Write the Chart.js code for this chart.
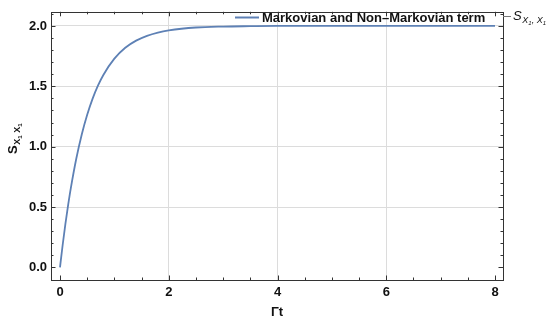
<!DOCTYPE html>
<html>
<head>
<meta charset="utf-8">
<script src="https://cdn.jsdelivr.net/npm/chart.js@4"></script>
<style>
html,body{margin:0;padding:0;background:#fff;}
#wrap{width:548px;height:323px;position:relative;}
</style>
</head>
<body>
<div id="wrap"><canvas id="c" width="548" height="323"></canvas></div>
<script>
// ---- data ----
const timeValues = [0, 0.05, 0.1, 0.15, 0.2, 0.3, 0.4, 0.5, 0.6, 0.7, 0.8, 1.0, 1.2, 1.4, 1.6, 1.8, 2.0, 2.5, 3.0, 3.5, 4.0, 5.0, 6.0, 7.0, 8.0];
const sValues    = [0, 0.19, 0.363, 0.518, 0.659, 0.902, 1.101, 1.264, 1.398, 1.507, 1.596, 1.729, 1.819, 1.878, 1.918, 1.945, 1.963, 1.987, 1.995, 1.998, 2.0, 2.0, 2.0, 2.0, 2.0];
const seriesLabel = "Markovian and Non\u2013Markovian term";
const xTickValues = [0, 2, 4, 6, 8];
const yTickValues = [0, 0.5, 1.0, 1.5, 2.0];
const xMinorStep = 0.5;
const yMinorStep = 0.1;
const xTitle = "\u0393t";

const FONT = '"Liberation Sans", Arial, sans-serif';
const BLUE = '#5e81b5';

const points = timeValues.map((t, i) => ({x: t, y: sValues[i]}));

const framePlugin = {
  id: 'frame',
  afterDatasetsDraw(chart) {
    const ctx = chart.ctx;
    const a = chart.chartArea;
    const xs = chart.scales.x, ys = chart.scales.y;
    ctx.save();
    // frame
    ctx.strokeStyle = '#333';
    ctx.lineWidth = 1;
    ctx.strokeRect(Math.round(a.left) + 0.5, Math.round(a.top) + 0.5, Math.round(a.right - a.left), Math.round(a.bottom - a.top));
    // ticks
    const majorLen = 4.5, minorLen = 2.5;
    ctx.strokeStyle = '#333';
    ctx.beginPath();
    const xMin = xs.min, xMax = xs.max;
    for (let k = Math.ceil(xMin / xMinorStep); k * xMinorStep <= xMax; k++) {
      const v = k * xMinorStep;
      const major = xTickValues.some(t => Math.abs(t - v) < 1e-9);
      const len = major ? majorLen : minorLen;
      const px = Math.round(xs.getPixelForValue(v)) + 0.5;
      ctx.moveTo(px, a.bottom); ctx.lineTo(px, a.bottom - len);
      ctx.moveTo(px, a.top); ctx.lineTo(px, a.top + len);
    }
    const yMin = ys.min, yMax = ys.max;
    for (let k = Math.ceil(yMin / yMinorStep - 1e-9); k * yMinorStep <= yMax + 1e-9; k++) {
      const v = k * yMinorStep;
      const major = yTickValues.some(t => Math.abs(t - v) < 1e-9);
      const len = major ? majorLen : minorLen;
      const py = Math.round(ys.getPixelForValue(v)) + 0.5;
      ctx.moveTo(a.left, py); ctx.lineTo(a.left + len, py);
      ctx.moveTo(a.right, py); ctx.lineTo(a.right - len, py);
    }
    ctx.stroke();

    // x title
    ctx.fillStyle = '#111';
    ctx.font = 'bold 13px ' + FONT;
    ctx.textAlign = 'center';
    ctx.textBaseline = 'alphabetic';
    ctx.fillText(xTitle, (a.left + a.right) / 2, 316);

    // y title (rotated) S_{X1 X1}
    ctx.save();
    ctx.translate(17, 142);
    ctx.rotate(-Math.PI / 2);
    drawS(ctx, -12, 0, true, ' ');
    ctx.restore();

    // legend
    const ly = ys.getPixelForValue(2.0);
    ctx.strokeStyle = BLUE;
    ctx.lineWidth = 2;
    ctx.beginPath();
    ctx.moveTo(235, 17.5); ctx.lineTo(259, 17.5);
    ctx.stroke();
    ctx.fillStyle = '#111';
    ctx.font = 'bold 13px ' + FONT;
    ctx.textAlign = 'left';
    ctx.fillText(chart.data.datasets[0].label, 262, 22);

    // callout on the right
    ctx.strokeStyle = '#777';
    ctx.lineWidth = 1;
    ctx.beginPath();
    ctx.moveTo(a.right, 16.5); ctx.lineTo(a.right + 8, 16.5);
    ctx.stroke();
    drawS(ctx, a.right + 10, 20, false, ', ');
    ctx.restore();
  }
};

function drawS(ctx, x, y, bold, sep) {
  ctx.fillStyle = '#111';
  ctx.textAlign = 'left';
  ctx.textBaseline = 'alphabetic';
  ctx.font = (bold ? 'bold ' : 'italic ') + '13px ' + FONT;
  ctx.fillText('S', x, y);
  let cx = x + ctx.measureText('S').width + 0.5;
  const parts = ['X', '1', sep, 'X', '1'];
  parts.forEach((p, i) => {
    if (p === '1') {
      ctx.font = (bold ? 'bold ' : 'italic ') + '6px ' + FONT;
      ctx.fillText(p, cx, y + 4.5);
    } else {
      ctx.font = (bold ? 'bold ' : 'italic ') + '9px ' + FONT;
      ctx.fillText(p, cx, y + 3);
    }
    cx += ctx.measureText(p).width + (p === '1' ? 0.3 : 0);
  });
}

new Chart(document.getElementById('c'), {
  type: 'line',
  data: {
    datasets: [{
      label: seriesLabel,
      data: points,
      borderColor: BLUE,
      borderWidth: 1.8,
      pointRadius: 0,
      fill: false,
      cubicInterpolationMode: 'monotone'
    }]
  },
  options: {
    responsive: false,
    animation: false,
    events: [],
    layout: {padding: {left: 0, right: 45, top: 2, bottom: 0}},
    plugins: {legend: {display: false}, tooltip: {enabled: false}},
    scales: {
      x: {
        type: 'linear',
        min: -0.1655,
        max: 8.147,
        afterBuildTicks(scale) { scale.ticks = xTickValues.map(v => ({value: v})); },
        afterFit(scale) { scale.height = 43; },
        border: {display: false},
        grid: {
          drawTicks: false,
          color: ctx => (ctx.tick && (ctx.tick.value === 0 || ctx.tick.value === 8)) ? 'rgba(0,0,0,0)' : '#dcdcdc',
          lineWidth: 1
        },
        ticks: {
          padding: 5,
          color: '#111',
          maxRotation: 0,
          font: {family: FONT, size: 13, weight: 'bold'},
          callback: v => String(v)
        }
      },
      y: {
        min: -0.104,
        max: 2.117,
        afterBuildTicks(scale) { scale.ticks = yTickValues.map(v => ({value: v})); },
        afterFit(scale) { scale.width = 51; },
        border: {display: false},
        grid: {
          drawTicks: false,
          color: ctx => (ctx.tick && ctx.tick.value === 0) ? 'rgba(0,0,0,0)' : '#dcdcdc',
          lineWidth: 1
        },
        ticks: {
          padding: 4,
          color: '#111',
          font: {family: FONT, size: 13, weight: 'bold'},
          callback: v => Number(v).toFixed(1)
        }
      }
    }
  },
  plugins: [framePlugin]
});
</script>
</body>
</html>
